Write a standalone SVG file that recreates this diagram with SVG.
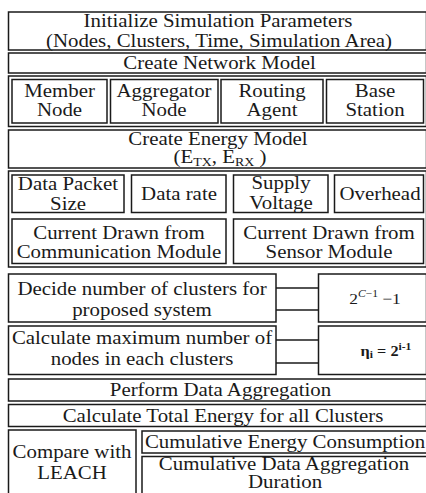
<svg xmlns="http://www.w3.org/2000/svg" width="426" height="493" viewBox="0 0 426 493">
  <style>
    .box { fill: #ffffff; stroke: #1a1a1a; stroke-width: 1.5; }
    .link { stroke: #1a1a1a; stroke-width: 1.5; fill: none; }
    .t { font-family: "Liberation Serif", "Times New Roman", serif; font-size: 18px; text-anchor: middle; fill: #1a1a1a; }
    .sub { font-size: 12px; }
    .f { font-family: "Liberation Serif", "Times New Roman", serif; font-size: 15px; text-anchor: middle; fill: #1a1a1a; }
    .fb { font-family: "Liberation Serif", "Times New Roman", serif; font-size: 14px; font-weight: bold; text-anchor: middle; fill: #1a1a1a; }
    .sup { font-size: 10px; }
  </style>
  <rect width="426" height="493" fill="#ffffff"/>

  <g id="init-params">
    <rect class="box" x="8.5" y="12" width="418" height="38"/>
    <text class="t" transform="translate(218 26.5) scale(1.16 1)">Initialize Simulation Parameters</text>
    <text class="t" transform="translate(219 46.5) scale(1.16 1)">(Nodes, Clusters, Time, Simulation Area)</text>
  </g>

  <g id="network-model">
    <rect class="box" x="8.5" y="53" width="418" height="20"/>
    <text class="t" transform="translate(219.5 68.5) scale(1.16 1)">Create Network Model</text>
  </g>

  <g id="network-parts">
    <rect class="box" x="8.5" y="76" width="418" height="50.5"/>
    <g id="member-node">
      <rect class="box" x="12" y="79.5" width="95" height="43.5"/>
      <text class="t" transform="translate(59.5 97) scale(1.16 1)">Member</text>
      <text class="t" transform="translate(59.5 116) scale(1.16 1)">Node</text>
    </g>
    <g id="aggregator-node">
      <rect class="box" x="110.5" y="79.5" width="107.5" height="43.5"/>
      <text class="t" transform="translate(164 97) scale(1.16 1)">Aggregator</text>
      <text class="t" transform="translate(164 116) scale(1.16 1)">Node</text>
    </g>
    <g id="routing-agent">
      <rect class="box" x="221" y="79.5" width="102" height="43.5"/>
      <text class="t" transform="translate(272 97) scale(1.16 1)">Routing</text>
      <text class="t" transform="translate(272 116) scale(1.16 1)">Agent</text>
    </g>
    <g id="base-station">
      <rect class="box" x="326.5" y="79.5" width="97" height="43.5"/>
      <text class="t" transform="translate(375 97) scale(1.16 1)">Base</text>
      <text class="t" transform="translate(375 116) scale(1.16 1)">Station</text>
    </g>
  </g>

  <g id="energy-model">
    <rect class="box" x="8.5" y="130" width="418" height="38"/>
    <text class="t" transform="translate(218 145) scale(1.16 1)">Create Energy Model</text>
    <text class="t" transform="translate(220 162.5) scale(1.16 1)">(E<tspan class="sub" dy="3">TX</tspan><tspan dy="-3">, E</tspan><tspan class="sub" dy="3">RX</tspan><tspan dy="-3"> )</tspan></text>
  </g>

  <g id="energy-parts">
    <rect class="box" x="8.5" y="171" width="418" height="96"/>
    <g id="packet-size">
      <rect class="box" x="12" y="175" width="112" height="37.5"/>
      <text class="t" transform="translate(68 190) scale(1.16 1)">Data Packet</text>
      <text class="t" transform="translate(68 209.5) scale(1.16 1)">Size</text>
    </g>
    <g id="data-rate">
      <rect class="box" x="131.5" y="175" width="94.5" height="37.5"/>
      <text class="t" transform="translate(179 200) scale(1.16 1)">Data rate</text>
    </g>
    <g id="supply-voltage">
      <rect class="box" x="233.5" y="175" width="94.5" height="37.5"/>
      <text class="t" transform="translate(281 189) scale(1.16 1)">Supply</text>
      <text class="t" transform="translate(281 208.5) scale(1.16 1)">Voltage</text>
    </g>
    <g id="overhead">
      <rect class="box" x="334.5" y="175" width="89" height="37.5"/>
      <text class="t" transform="translate(380 200) scale(1.16 1)">Overhead</text>
    </g>
    <g id="comm-current">
      <rect class="box" x="12" y="219" width="214" height="44.5"/>
      <text class="t" transform="translate(119 238.5) scale(1.16 1)">Current Drawn from</text>
      <text class="t" transform="translate(119 258) scale(1.16 1)">Communication Module</text>
    </g>
    <g id="sensor-current">
      <rect class="box" x="233.5" y="219" width="190" height="44.5"/>
      <text class="t" transform="translate(329 238.5) scale(1.16 1)">Current Drawn from</text>
      <text class="t" transform="translate(329 258) scale(1.16 1)">Sensor Module</text>
    </g>
  </g>

  <g id="cluster-count">
    <rect class="box" x="8.5" y="274" width="267.5" height="48"/>
    <text class="t" transform="translate(142 295) scale(1.16 1)">Decide number of clusters for</text>
    <text class="t" transform="translate(142 316) scale(1.16 1)">proposed system</text>
  </g>

  <g id="cluster-formula">
    <rect class="box" x="318.5" y="274" width="108" height="48"/>
    <text class="f" transform="translate(375 304) scale(1.16 1)">2<tspan class="sup" dy="-7"><tspan font-style="italic">C</tspan>−1</tspan><tspan dy="7"> −1</tspan></text>
  </g>

  <g id="node-count">
    <rect class="box" x="8.5" y="326" width="267.5" height="48.5"/>
    <text class="t" transform="translate(142 343.5) scale(1.16 1)">Calculate maximum number of</text>
    <text class="t" transform="translate(142 364.5) scale(1.16 1)">nodes in each clusters</text>
  </g>

  <g id="node-formula">
    <rect class="box" x="318.5" y="326" width="108" height="48.5"/>
    <text class="fb" transform="translate(386 356) scale(1.16 1)">η<tspan class="sup" dy="2">i</tspan><tspan dy="-2"> = 2</tspan><tspan class="sup" dy="-6">i-1</tspan></text>
  </g>

  <g id="connectors">
    <line class="link" x1="276" y1="288" x2="318.5" y2="288"/>
    <line class="link" x1="276" y1="310" x2="318.5" y2="310"/>
    <line class="link" x1="276" y1="340" x2="318.5" y2="340"/>
    <line class="link" x1="276" y1="363" x2="318.5" y2="363"/>
  </g>

  <g id="aggregation">
    <rect class="box" x="8.5" y="379" width="418" height="22"/>
    <text class="t" transform="translate(220.5 396) scale(1.16 1)">Perform Data Aggregation</text>
  </g>

  <g id="total-energy">
    <rect class="box" x="8.5" y="404.5" width="418" height="22"/>
    <text class="t" transform="translate(223 421.5) scale(1.16 1)">Calculate Total Energy for all Clusters</text>
  </g>

  <g id="leach-compare">
    <rect class="box" x="8.5" y="430" width="127.5" height="70"/>
    <text class="t" transform="translate(72 457.5) scale(1.16 1)">Compare with</text>
    <text class="t" transform="translate(72 478.5) scale(1.16 1)">LEACH</text>
  </g>

  <g id="energy-consumption">
    <rect class="box" x="142" y="431" width="286" height="22"/>
    <text class="t" transform="translate(285 447.5) scale(1.16 1)">Cumulative Energy Consumption</text>
  </g>

  <g id="aggregation-duration">
    <rect class="box" x="142" y="456.5" width="286" height="45"/>
    <text class="t" transform="translate(284 469.5) scale(1.16 1)">Cumulative Data Aggregation</text>
    <text class="t" transform="translate(285 488) scale(1.16 1)">Duration</text>
  </g>
</svg>
